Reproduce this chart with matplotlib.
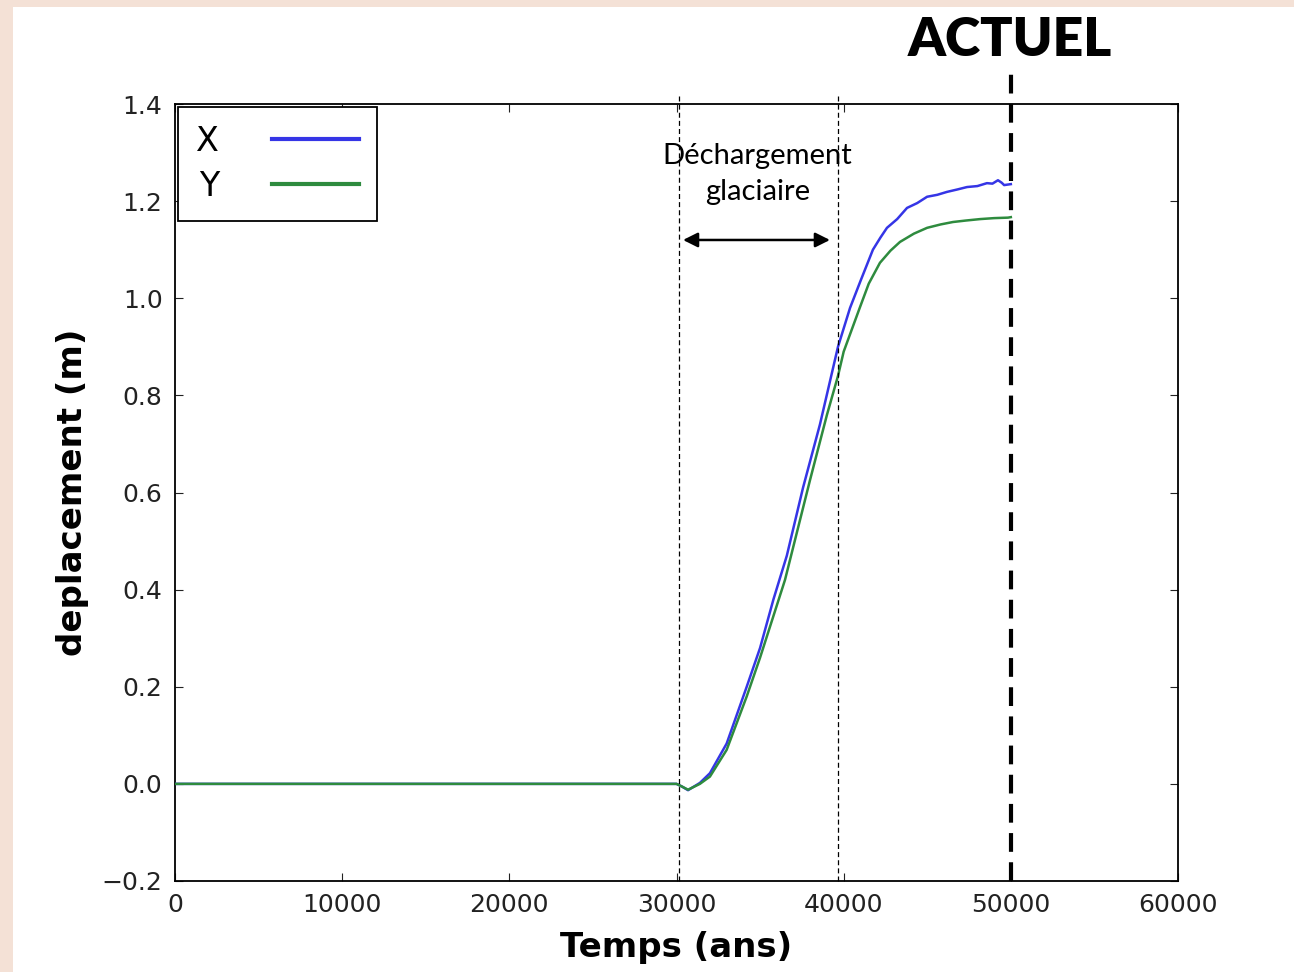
import matplotlib
matplotlib.use("Agg")
import matplotlib.pyplot as plt
from matplotlib.patches import Rectangle

# temps (ans) et deplacement (m)
temps_x = [0, 10000, 20000, 30000, 30300, 30690, 31400, 32000, 33000, 34200,
           35000, 35800, 36600, 37570, 38580, 39660, 40380, 41000, 41750,
           42200, 42590, 43200, 43790, 44400, 44990, 45600, 46180, 46800,
           47380, 48000, 48570, 48900, 49230, 49450, 49600, 50000]
depl_x = [0, 0, 0, 0, -0.005, -0.013, 0.002, 0.022, 0.083, 0.20,
          0.28, 0.38, 0.47, 0.61, 0.74, 0.90, 0.98, 1.035, 1.10,
          1.125, 1.145, 1.163, 1.186, 1.196, 1.209, 1.213, 1.219, 1.224,
          1.229, 1.231, 1.237, 1.236, 1.243, 1.238, 1.233, 1.235]

temps_y = [0, 10000, 20000, 30000, 30300, 30690, 31400, 32000, 33000, 34200,
           35000, 36490, 37990, 39000, 39660, 40000, 40980, 41500, 42170,
           42800, 43370, 44200, 44990, 45800, 46540, 47300, 48160, 49000,
           49830, 50000]
depl_y = [0, 0, 0, 0, -0.005, -0.012, 0.0, 0.015, 0.07, 0.18,
          0.26, 0.42, 0.626, 0.76, 0.84, 0.89, 0.982, 1.03, 1.073,
          1.098, 1.116, 1.133, 1.145, 1.152, 1.157, 1.160, 1.163, 1.165,
          1.166, 1.167]

x_ticks = [0, 10000, 20000, 30000, 40000, 50000, 60000]
y_ticks = [-0.2, 0.0, 0.2, 0.4, 0.6, 0.8, 1.0, 1.2, 1.4]

debut_dechargement = 30150
fin_dechargement = 39650
actuel = 50000

fig = plt.figure(figsize=(12.94, 9.72), dpi=100)
fig.patch.set_facecolor("#F4E1D6")
fig.patches.append(Rectangle((13 / 1294, 0), 1, 1 - 7 / 972,
                             transform=fig.transFigure, facecolor="white",
                             edgecolor="none", zorder=-5))

ax = fig.add_axes([175 / 1294, 1 - 881 / 972, 1003 / 1294, 777 / 972])
ax.plot(temps_x, depl_x, color="#3535E6", linewidth=1.8, label="X", zorder=3)
ax.plot(temps_y, depl_y, color="#2E8B3E", linewidth=1.8, label="Y", zorder=3)

ax.set_xlim(0, 60000)
ax.set_ylim(-0.2, 1.4)
ax.set_xticks(x_ticks)
ax.set_yticks(y_ticks)
ax.tick_params(direction="in", top=True, right=True, length=6,
               labelsize=18, pad=9, colors="#222222")
for spine in ax.spines.values():
    spine.set_linewidth(1.3)

ax.set_xlabel("Temps (ans)", fontsize=24.5, fontweight="bold", labelpad=10)
ax.set_ylabel("deplacement (m)", fontsize=24.5, fontweight="bold", labelpad=9)

leg = ax.legend(loc="upper left", markerfirst=False, fontsize=24,
                handlelength=2.6, fancybox=False, framealpha=1,
                edgecolor="black", borderaxespad=0.08, borderpad=0.55,
                labelspacing=0.35, handletextpad=1.6)
leg.get_frame().set_linewidth(1.3)
for line in leg.get_lines():
    line.set_linewidth(3)

# periode de dechargement glaciaire
for xv in (debut_dechargement, fin_dechargement):
    ax.plot([xv, xv], [-0.2, 1.418], color="black", linestyle=(0, (4, 2.5)),
            linewidth=0.9, clip_on=False, zorder=4)
ax.annotate("", xy=(30390, 1.12), xytext=(39180, 1.12),
            arrowprops=dict(arrowstyle="<|-|>", color="black", linewidth=1.8,
                            mutation_scale=22, shrinkA=0, shrinkB=0))
ax.text(34850, 1.256, "Déchargement\nglaciaire", ha="center", va="center",
        fontsize=21, family="Lato", linespacing=1.45, zorder=5)

# ligne ACTUEL
ax.plot([actuel, actuel], [-0.2, 1.47], color="black", linestyle=(0, (4.5, 2.5)),
        linewidth=3, clip_on=False, zorder=6)
fig.text(1010 / 1294, 1 - 41 / 972, "ACTUEL", ha="center", va="center",
         fontsize=38.5, fontweight="heavy", family="Lato")

fig.savefig("out.png", dpi=100, facecolor=fig.get_facecolor())
